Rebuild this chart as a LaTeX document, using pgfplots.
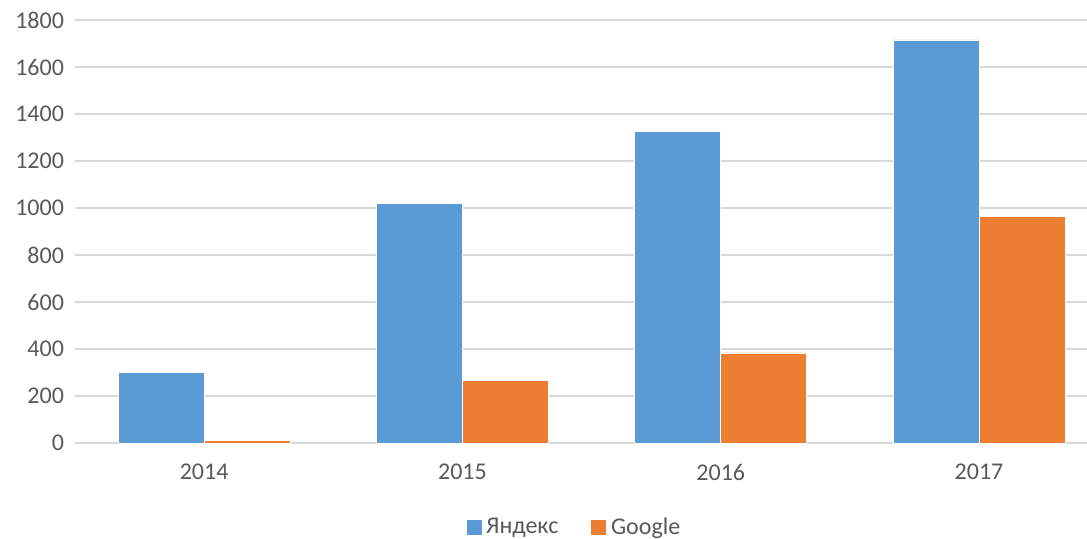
\documentclass[border=0pt]{standalone}
\usepackage{pgfplots}
\pgfplotsset{compat=1.18}
\usepackage{fontspec}
\setmainfont{Carlito}
\definecolor{yblue}{HTML}{5B9BD5}
\definecolor{gorange}{HTML}{ED7D31}
\definecolor{gridc}{HTML}{D9D9D9}
\definecolor{txt}{HTML}{595959}
\begin{document}
\begin{tikzpicture}
\begin{axis}[
  name=ax,
  scale only axis,
  width=506pt, height=211.5pt,
  xmin=-0.5, xmax=3.418,
  ymin=0, ymax=1800,
  ytick={0,200,...,1800},
  xtick={0,1,2,3},
  xticklabels={2014,2015,2016,2017},
  ybar=0pt,
  bar width=43pt,
  axis line style={draw=none},
  major tick length=0pt,
  ymajorgrids,
  grid style={gridc, line width=0.8pt},
  tick label style={font=\fontsize{12}{14}\selectfont, text=txt},
  /pgf/number format/assume math mode=true,
  /pgf/number format/1000 sep={},
  yticklabel style={xshift=-2pt},
  xticklabel style={yshift=-7pt},
  legend style={draw=none, at={(0.494,-0.199)}, anchor=center,
    legend columns=2, font=\fontsize{12}{14}\selectfont, text=txt,
    /tikz/every even column/.append style={column sep=14pt}},
  legend image code/.code={\fill[#1] (0pt,-4pt) rectangle (8pt,4pt);},
  clip=false,
]
\addplot[fill=yblue, draw=white, line width=0.3pt] coordinates {(0,300) (1,1020) (2,1325) (3,1715)};
\addplot[fill=gorange, draw=white, line width=0.3pt] coordinates {(0,12) (1,265) (2,383) (3,964)};
\legend{Яндекс, Google}
\end{axis}
\pgfresetboundingbox
\path[use as bounding box] ([shift={(-37.5pt,-48pt)}]ax.south west) rectangle ([shift={(0pt,10pt)}]ax.north east);
\end{tikzpicture}
\end{document}
